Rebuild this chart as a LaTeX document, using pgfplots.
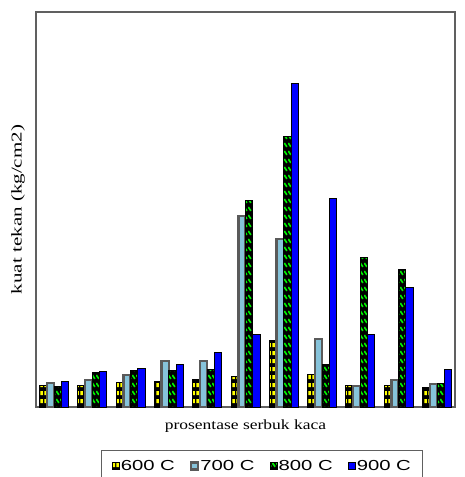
\documentclass[border=0pt]{standalone}
\usepackage{fontspec}
\setmainfont{Liberation Serif}
\newfontfamily\legfont[FakeStretch=1.4]{Liberation Sans}
\newfontfamily\xlabfont[FakeStretch=1.25]{Liberation Serif}
\newfontfamily\ylabfont[FakeStretch=1.4]{Liberation Serif}
\usepackage{pgfplots}
\pgfplotsset{compat=1.18}
\usetikzlibrary{patterns}
\definecolor{cyel}{HTML}{FFFF00}
\definecolor{cgreen}{HTML}{00EE00}
\definecolor{cblue}{HTML}{0000FF}
\definecolor{clblue}{HTML}{86C3DA}
\definecolor{cgray}{HTML}{5A5A5A}
\definecolor{caxis}{HTML}{606060}
\pgfdeclarepatternformonly{ydash}{\pgfqpoint{0pt}{0pt}}{\pgfqpoint{4pt}{8pt}}{\pgfqpoint{4pt}{8pt}}{%
  \pgfpathrectangle{\pgfqpoint{0.5pt}{2pt}}{\pgfqpoint{3pt}{4.5pt}}\pgfusepath{fill}}
\pgfdeclarepatternformonly{gdash}{\pgfqpoint{0pt}{0pt}}{\pgfqpoint{4pt}{8pt}}{\pgfqpoint{4pt}{8pt}}{%
  \pgfsetlinewidth{2pt}%
  \pgfpathmoveto{\pgfqpoint{0.4pt}{6.6pt}}\pgfpathlineto{\pgfqpoint{3.6pt}{2.4pt}}\pgfusepath{stroke}}
\begin{document}
\begin{tikzpicture}
\begin{axis}[
  at={(0,0)}, anchor=south west,
  scale only axis, width=419pt, height=395pt,
  ybar=0pt, bar width=7.25pt,
  xmin=-0.47, xmax=10.47, ymin=0, ymax=395,
  enlargelimits=false,
  xtick=\empty, ytick=\empty,
  axis line style={draw=caxis, line width=1.3pt},
  every axis x label/.style={at={(axis description cs:0.5,0)}, yshift=-19pt, anchor=center},
  every axis y label/.style={at={(axis description cs:0,0.5)}, xshift=-18pt, rotate=90, anchor=center},
  xlabel={\fontsize{14}{16}\xlabfont prosentase serbuk kaca},
  ylabel={\fontsize{15}{17}\ylabfont kuat tekan (kg/cm2)},
  legend columns=4,
  legend style={at={(axis description cs:0.539,0)}, anchor=north, yshift=-43pt,
    draw=caxis, line width=0.8pt, font=\fontsize{14.5}{16}\legfont,
    inner xsep=10pt, inner ysep=8pt,
    /tikz/every even column/.append style={column sep=14pt},
    nodes={inner xsep=1pt}},
  legend image code/.code={\draw[#1] (0pt,-3.5pt) rectangle (7pt,3.5pt);},
]
\addplot[draw=black, line width=1pt, fill=black, postaction={pattern=ydash, pattern color=cyel}]
  coordinates {(0,22) (1,22) (2,25) (3,26) (4,28) (5,31) (6,67) (7,33) (8,22) (9,22) (10,20)};
\addplot[draw=cgray, line width=2.5pt, fill=clblue]
  coordinates {(0,24) (1,27) (2,32) (3,46) (4,46) (5,191) (6,168) (7,68) (8,21) (9,27) (10,23)};
\addplot[draw=black, line width=1pt, fill=black, postaction={pattern=gdash, pattern color=cgreen}]
  coordinates {(0,21) (1,35) (2,37) (3,37) (4,38) (5,207) (6,270) (7,43) (8,150) (9,138) (10,24)};
\addplot[draw=black, line width=1pt, fill=cblue]
  coordinates {(0,26) (1,36) (2,39) (3,43) (4,55) (5,73) (6,323) (7,209) (8,73) (9,120) (10,38)};
\legend{600 C,700 C,800 C,900 C}
\end{axis}
\pgfresetboundingbox
\path[use as bounding box] (-36pt,-70pt) rectangle (429pt,407pt);
\end{tikzpicture}
\end{document}
